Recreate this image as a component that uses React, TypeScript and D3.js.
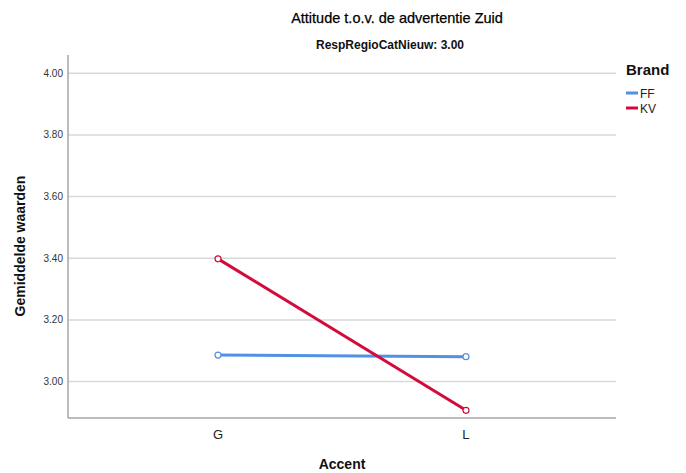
import React from "react";
import * as d3 from "d3";

const categories = ["G", "L"];
const seriesNames = ["FF", "KV"];
const ffValues = [3.086, 3.081];
const kvValues = [3.398, 2.907];
const yTicks = [3.0, 3.2, 3.4, 3.6, 3.8, 4.0];
const colors = ["#5091e4", "#d30b3d"];

const W = 686, H = 473;
const left = 68, right = 616, top = 55, bottom = 418;

export default function App() {
  const x = d3.scalePoint<string>().domain(categories).range([left, right]).padding(0.605);
  const y = d3.scaleLinear().domain([2.882, 4.059]).range([bottom, top]);
  const line = d3.line<number>().x((_, i) => x(categories[i])!).y((d) => y(d));
  const series = [ffValues, kvValues];
  const font = "'Liberation Sans', Arial, sans-serif";
  return (
    <svg width={W} height={H} style={{ position: "absolute", left: 0, top: 0, background: "#fff" }} fontFamily={font}>
      <text x={397} y={23} textAnchor="middle" fontSize={14.5} fill="#000" stroke="#000" strokeWidth={0.25}>Attitude t.o.v. de advertentie Zuid</text>
      <text x={390} y={49} textAnchor="middle" fontSize={12} fontWeight="bold" fill="#111">RespRegioCatNieuw: 3.00</text>
      {yTicks.map((t) => (
        <g key={t}>
          <line x1={left} x2={right} y1={y(t)} y2={y(t)} stroke="#d9d9d9" strokeWidth={1.5} />
          <text x={63} y={y(t) + 3.5} textAnchor="end" fontSize={10} fill="#333">{t.toFixed(2)}</text>
        </g>
      ))}
      <line x1={left} x2={left} y1={top} y2={bottom} stroke="#a6a6a6" strokeWidth={1.5} />
      <line x1={left} x2={right} y1={bottom} y2={bottom} stroke="#a6a6a6" strokeWidth={1.5} />
      {categories.map((c) => (
        <text key={c} x={x(c)} y={439} textAnchor="middle" fontSize={13} fill="#222">{c}</text>
      ))}
      <text x={342} y={469} textAnchor="middle" fontSize={14} fontWeight="bold" fill="#111">Accent</text>
      <text transform={`translate(25,${246}) rotate(-90)`} textAnchor="middle" fontSize={14} fontWeight="bold" fill="#111">Gemiddelde waarden</text>
      {series.map((s, si) => (
        <g key={si}>
          <path d={line(s)!} fill="none" stroke={colors[si]} strokeWidth={3} />
          {s.map((v, i) => (
            <circle key={i} cx={x(categories[i])} cy={y(v)} r={3} fill="#fff" stroke={colors[si]} strokeWidth={1.2} />
          ))}
        </g>
      ))}
      <text x={626} y={75} fontSize={15} fontWeight="bold" fill="#111">Brand</text>
      {seriesNames.map((n, i) => (
        <g key={n}>
          <line x1={626} x2={638} y1={93 + i * 15} y2={93 + i * 15} stroke={colors[i]} strokeWidth={3} />
          <text x={640} y={97.5 + i * 15} fontSize={12} fill="#222">{n}</text>
        </g>
      ))}
    </svg>
  );
}
